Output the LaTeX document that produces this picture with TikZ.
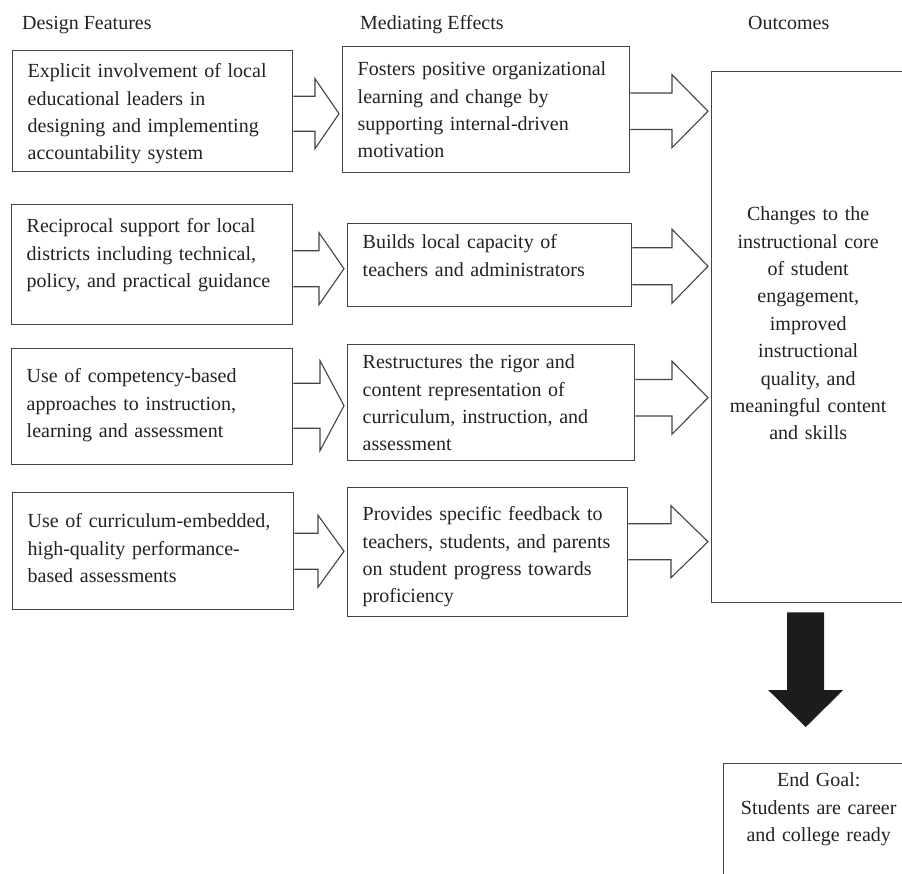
\documentclass[tikz,border=0pt]{standalone}
\usepackage{fontspec}
\setmainfont{Liberation Serif}
\usetikzlibrary{calc}

\definecolor{linegray}{HTML}{444444}
\definecolor{textgray}{HTML}{222222}
\definecolor{darkfill}{HTML}{1C1C1C}

\hyphenpenalty=10000
\exhyphenpenalty=10000

\tikzset{
  box/.style={draw=linegray, line width=1.4pt, fill=white, anchor=north west,
    inner xsep=15pt, inner ysep=0pt, align=left, text=textgray},
  outbox/.style={box, inner xsep=5pt, align=center},
  heading/.style={anchor=base west, inner sep=0pt, text=textgray},
  hollow/.style={draw=linegray, line width=1.1pt, fill=white},
  solid/.style={fill=darkfill, draw=none},
}

% hollow block arrow: from, to, shift down, head length, head half-width
\newcommand{\hollowarrow}[5]{%
  \filldraw[hollow] let \p1=(#1.east), \p2=(#2.west) in
    ({\x1},{\y1-(#3)+(#5)/2}) -- ({\x2-3-(#4)},{\y1-(#3)+(#5)/2})
    -- ({\x2-3-(#4)},{\y1-(#3)+(#5)}) -- ({\x2-3},{\y1-(#3)})
    -- ({\x2-3-(#4)},{\y1-(#3)-(#5)}) -- ({\x2-3-(#4)},{\y1-(#3)-(#5)/2})
    -- ({\x1},{\y1-(#3)-(#5)/2});}

\begin{document}
\begin{tikzpicture}[x=1pt, y=-1pt, font=\fontsize{20}{27.4}\selectfont]
    \useasboundingbox (0,0) rectangle (902,873);
    \clip (0,0) rectangle (902,873);

    % headings
    \node[heading] (hdes) at (22,29) {Design Features};
    \node[heading] (hmed) at (360,29) {Mediating Effects};
    \node[heading] (hout) at (748,29) {Outcomes};

    % design features
    \node[box, text width=250pt, text height=27pt, text depth=94pt] (d1) at (12,50)
        {Explicit involvement of local\\educational leaders in\\designing and implementing\\accountability system};
    \node[box, text width=251pt, text height=28pt, text depth=92pt] (d2) at (11,204)
        {Reciprocal support for local\\districts including technical,\\policy, and practical guidance};
    \node[box, text width=251pt, text height=34pt, text depth=82pt] (d3) at (11,348)
        {Use of competency-based\\approaches to instruction,\\learning and assessment};
    \node[box, text width=251pt, text height=35pt, text depth=82pt] (d4) at (12,492)
        {Use of curriculum-embedded,\\high-quality performance-\\based assessments};

    % mediating effects
    \node[box, text width=257pt, text height=29pt, text depth=97pt] (m1) at (342,46)
        {Fosters positive organizational\\learning and change by\\supporting internal-driven\\motivation};
    \node[box, text width=254pt, text height=25pt, text depth=58pt] (m2) at (347,223)
        {Builds local capacity of\\teachers and administrators};
    \node[box, text width=257pt, text height=24pt, text depth=92pt] (m3) at (347,344)
        {Restructures the rigor and\\content representation of\\curriculum, instruction, and\\assessment};
    \node[box, text width=250pt, text height=33pt, text depth=96pt] (m4) at (347,487)
        {Provides specific feedback to\\teachers, students, and parents\\on student progress towards\\proficiency};

    % outcomes
    \node[outbox, text width=183pt, text height=149pt, text depth=382pt] (out) at (711,71)
        {Changes to the\\instructional core\\of student\\engagement,\\improved\\instructional\\quality, and\\meaningful content\\and skills};
    \node[outbox, text width=180pt, text height=23pt, text depth=200pt] (goal) at (723,763)
        {End Goal:\\Students are career\\and college ready};

    % arrows
    \hollowarrow{d1}{m1}{2.5}{24}{35}
    \hollowarrow{d2}{m2}{4}{25}{36}
    \hollowarrow{d3}{m3}{-1}{24}{45}
    \hollowarrow{d4}{m4}{0}{26}{36}
    \hollowarrow{m1}{out}{1.5}{36}{36.5}
    \hollowarrow{m2}{out}{1}{36}{37}
    \hollowarrow{m3}{out}{-5}{36}{36.5}
    \hollowarrow{m4}{out}{-10.5}{37}{36}

    \fill[solid] let \p1=(out.south), \p2=(goal.north) in
        ({\x1-21},{\y1-9}) -- ({\x1+16},{\y1-9}) -- ({\x1+16},{\y2+73})
        -- ({\x1+35},{\y2+73}) -- ({\x1-2.5},{\y2+36}) -- ({\x1-40},{\y2+73})
        -- ({\x1-21},{\y2+73}) -- cycle;

\end{tikzpicture}
\end{document}
